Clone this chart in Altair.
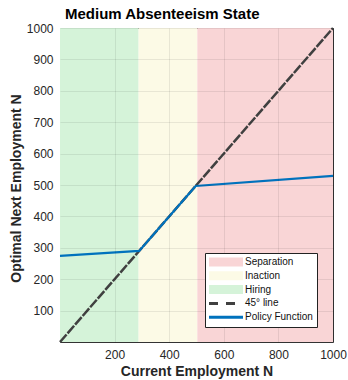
import altair as alt
import pandas as pd

# ---- data ----
region_names = ["Hiring", "Inaction", "Separation"]
region_start = [0, 288, 503]
region_end = [288, 503, 1000]

diag_x = [0, 1000]
diag_y = [0, 1000]

policy_x = [0, 290, 497, 1000]
policy_y = [274, 290, 497, 529]

legend_order = ["Separation", "Inaction", "Hiring", "45° line", "Policy Function"]
legend_colors = ["#f9d5d6", "#fcfae6", "#d5f3d9", "#404040", "#0072bd"]
legend_shapes = [
    "M-1,-0.9H5.8V0.9H-1Z",
    "M-1,-0.9H5.8V0.9H-1Z",
    "M-1,-0.9H5.8V0.9H-1Z",
    "M-1,-0.3H0.8V0.3H-1Z M2.4,-0.3H4.2V0.3H2.4Z",
    "M-1,-0.3H5.8V0.3H-1Z",
]

x_ticks = [200, 400, 600, 800, 1000]
y_ticks = [100, 200, 300, 400, 500, 600, 700, 800, 900, 1000]

FONT = "Liberation Sans"

regions = pd.DataFrame({"series": region_names, "x0": region_start, "x1": region_end,
                        "y0": [0] * 3, "y1": [1000] * 3})
diag = pd.DataFrame({"x": diag_x, "y": diag_y, "series": ["45° line"] * 2})
policy = pd.DataFrame({"x": policy_x, "y": policy_y, "series": ["Policy Function"] * len(policy_x)})
leg = pd.DataFrame({"series": legend_order})

color_scale = alt.Scale(domain=legend_order, range=legend_colors)
shape_scale = alt.Scale(domain=legend_order, range=legend_shapes)

xscale = alt.Scale(domain=[0, 1000], nice=False)
yscale = alt.Scale(domain=[0, 1000], nice=False)

xaxis = alt.Axis(title="Current Employment N", values=x_ticks, format="d", grid=True, ticks=False,
                 domain=False, labelPadding=7, titlePadding=4, labelOverlap=False,
                 labelFlush=False, zindex=1)
yaxis = alt.Axis(title="Optimal Next Employment N", values=y_ticks, format="d", grid=True,
                 ticks=False, domain=False, labelPadding=7, labelOverlap=False,
                 labelFlush=False, titleY=160, titleX=-37, zindex=1)

legend_def = alt.Legend(title=None, orient="none", legendX=145, legendY=225,
                        symbolSize=100, symbolStrokeWidth=0, labelOffset=26,
                        rowPadding=3.8, padding=4, strokeColor="#222",
                        fillColor="white", labelFont=FONT, labelFontSize=10,
                        labelColor="#111", zindex=3)

bands = alt.Chart(regions).mark_rect().encode(
    x=alt.X("x0:Q", scale=xscale, axis=xaxis),
    x2="x1:Q",
    y=alt.Y("y0:Q", scale=yscale, axis=yaxis),
    y2="y1:Q",
    color=alt.Color("series:N", scale=color_scale),
)

diag_line = alt.Chart(diag).mark_line(strokeWidth=2.5, strokeDash=[10, 1.5]).encode(
    x=alt.X("x:Q", scale=xscale, axis=xaxis),
    y=alt.Y("y:Q", scale=yscale, axis=yaxis),
    color=alt.Color("series:N", scale=color_scale),
)

policy_line = alt.Chart(policy).mark_line(strokeWidth=2.2).encode(
    x=alt.X("x:Q", scale=xscale, axis=xaxis),
    y=alt.Y("y:Q", scale=yscale, axis=yaxis),
    color=alt.Color("series:N", scale=color_scale),
)

legend_layer = alt.Chart(leg).transform_filter("datum.series == 'none'").mark_point(
    filled=True, opacity=1, strokeWidth=0
).encode(
    color=alt.Color("series:N", scale=color_scale, legend=legend_def),
    shape=alt.Shape("series:N", scale=shape_scale, legend=legend_def),
)

chart = alt.layer(bands, diag_line, policy_line, legend_layer).properties(
    width=273, height=314,
    background="white",
    title=alt.Title("Medium Absenteeism State", anchor="start", frame="group", offset=0, dx=5,
                    font=FONT, fontSize=15, fontWeight="bold", color="#000"),
    autosize=alt.AutoSizeParams(type="none"),
    padding={"left": 60, "top": 28, "right": 15, "bottom": 38},
).configure_view(
    stroke="#333", strokeWidth=1
).configure_axis(
    labelFont=FONT, labelFontSize=12, labelColor="#262626", labelOverlap=False,
    titleFont=FONT, titleFontSize=14, titleFontWeight="bold", titleColor="#262626",
    gridColor="#000", gridOpacity=0.08,
)

chart.save("out.html", embed_options={"renderer": "svg", "actions": False})
